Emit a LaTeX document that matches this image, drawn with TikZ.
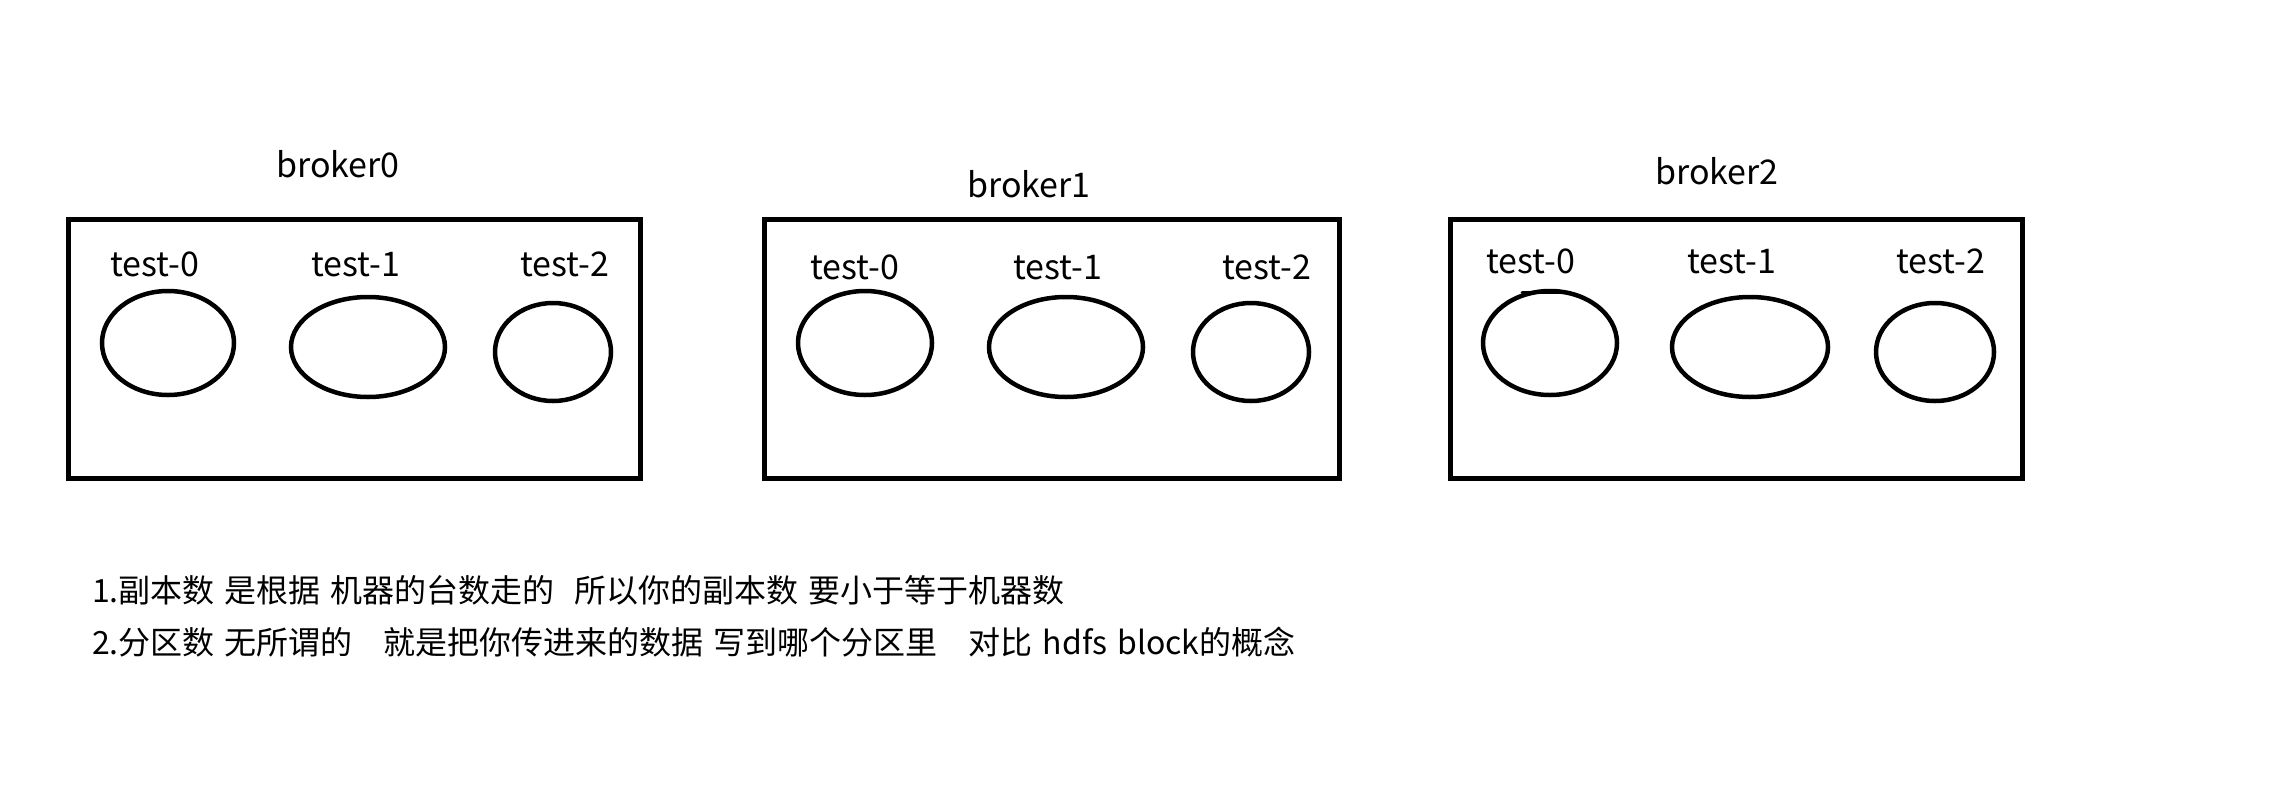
\documentclass[tikz,border=0pt]{standalone}
\usepackage{fontspec}
\setmainfont{Noto Sans CJK SC}
\usetikzlibrary{shapes.geometric}
\tikzset{
  broker/.style={draw, line width=5pt, rectangle, inner sep=0pt, outer sep=0pt, minimum height=259pt},
  part/.style={draw, line width=4.5pt, ellipse, inner sep=0pt, outer sep=0pt},
  lbl/.style={inner sep=0pt, anchor=base, font=\fontsize{34}{40}\selectfont},
  note/.style={inner sep=0pt, anchor=base west, font=\fontsize{32}{38}\selectfont}
}
\begin{document}
\begin{tikzpicture}[x=1pt,y=-1pt]
\useasboundingbox[fill=white] (0,0) rectangle (2290,803);
% boxes
\node[broker, minimum width=572pt] (b0) at (354.5,349) {};
\node[broker, minimum width=575pt] (b1) at (1052,349) {};
\node[broker, minimum width=572pt] (b2) at (1736.5,349) {};
% titles
\node[lbl] (t0) at (338,177) {broker0};
\node[lbl] (t1) at (1029,197) {broker1};
\node[lbl] (t2) at (1717,184) {broker2};
% partition labels
\node[lbl] (l00) at (155,276) {test-0};
\node[lbl] (l01) at (356,276) {test-1};
\node[lbl] (l02) at (565,276) {test-2};
\node[lbl] (l10) at (855,279) {test-0};
\node[lbl] (l11) at (1058,279) {test-1};
\node[lbl] (l12) at (1267,279) {test-2};
\node[lbl] (l20) at (1531,273) {test-0};
\node[lbl] (l21) at (1732,273) {test-1};
\node[lbl] (l22) at (1941,273) {test-2};
% partitions
\node[part, minimum width=132pt, minimum height=104pt] (e00) at (168,343) {};
\node[part, minimum width=154pt, minimum height=100pt] (e01) at (368,347) {};
\node[part, minimum width=116pt, minimum height=98pt] (e02) at (553,352) {};
\node[part, minimum width=134pt, minimum height=104pt] (e10) at (865,343) {};
\node[part, minimum width=154pt, minimum height=100pt] (e11) at (1066,347) {};
\node[part, minimum width=116pt, minimum height=98pt] (e12) at (1251,352) {};
\node[part, minimum width=134pt, minimum height=104pt] (e20) at (1550,343) {};
\node[part, minimum width=156pt, minimum height=100pt] (e21) at (1750,347) {};
\node[part, minimum width=118pt, minimum height=98pt] (e22) at (1935,352) {};
\draw[line width=3pt, line cap=round] ([xshift=-28pt,yshift=-1pt]e20.north) -- ([xshift=14pt,yshift=-1pt]e20.north);
% notes
\node[note] (n1) at (92,602) {\spaceskip=10pt 1.副本数 是根据 机器的台数走的\hspace{20pt}所以你的副本数 要小于等于机器数};
\node[note] (n2) at (92,654) {\spaceskip=10pt 2.分区数 无所谓的\hspace{31pt}就是把你传进来的数据 写到哪个分区里\hspace{31pt}对比 hdfs block的概念};
\end{tikzpicture}
\end{document}
